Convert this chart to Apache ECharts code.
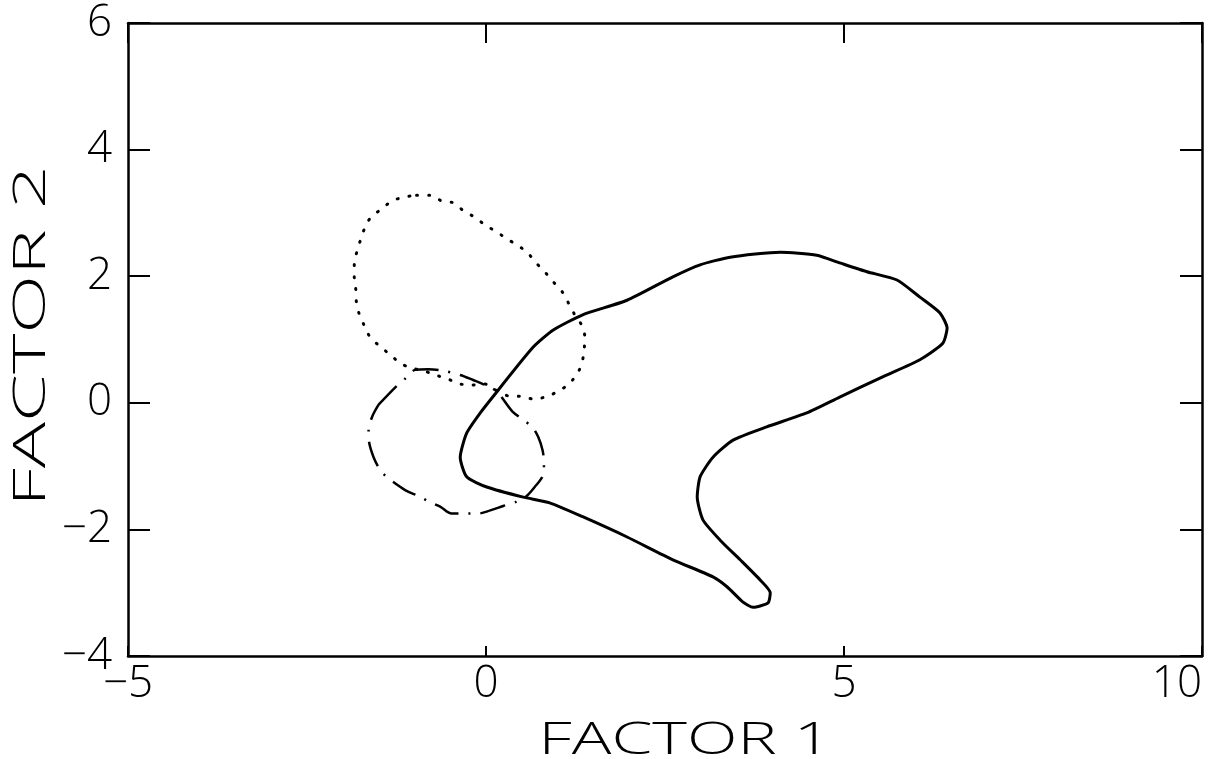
<!DOCTYPE html>
<html>
<head>
<meta charset="utf-8">
<title>FACTOR 1 / FACTOR 2</title>
<script src="https://cdn.jsdelivr.net/npm/echarts@6/dist/echarts.min.js"></script>
<style>
  html, body { margin: 0; padding: 0; background: #fff; }
  #chart { width: 1215px; height: 759px; }
</style>
</head>
<body>
<div id="chart"></div>
<script>
// axis ranges / ticks
const xRange = [-5, 10]
const yRange = [-4, 6]
const xStep = 5
const yStep = 2

// solid contour
const solidCurve = [
  [0.15, 0.17], [0.66, 0.88], [0.94, 1.15], [1.35, 1.39], [1.97, 1.62],
  [2.61, 1.99], [2.99, 2.18], [3.41, 2.30], [4.11, 2.38], [4.62, 2.33],
  [4.94, 2.21], [5.32, 2.07], [5.74, 1.94], [6.06, 1.67], [6.34, 1.42],
  [6.44, 1.18], [6.38, 0.94], [6.06, 0.68], [5.54, 0.41], [4.94, 0.09],
  [4.48, -0.16], [3.92, -0.38], [3.45, -0.59], [3.17, -0.86], [2.99, -1.17],
  [2.95, -1.49], [3.03, -1.85], [3.27, -2.17], [3.55, -2.48], [3.83, -2.80],
  [3.97, -3.00], [3.94, -3.16], [3.73, -3.23], [3.59, -3.15], [3.37, -2.91],
  [3.17, -2.75], [2.61, -2.48], [1.97, -2.12], [1.35, -1.80], [0.89, -1.58],
  [0.52, -1.49], [0.01, -1.33], [-0.27, -1.17], [-0.36, -0.86], [-0.27, -0.48],
  [-0.08, -0.16], [0.15, 0.17]
]

// dotted contour
const dottedCurve = [
  [-0.97, 3.28], [-0.78, 3.28], [-0.62, 3.19], [-0.46, 3.16], [-0.31, 3.03],
  [-0.17, 2.94], [0.00, 2.80], [0.15, 2.70], [0.29, 2.59], [0.44, 2.49],
  [0.58, 2.37], [0.70, 2.21], [0.82, 2.07], [0.94, 1.91], [1.06, 1.76],
  [1.15, 1.58], [1.24, 1.39], [1.34, 1.22], [1.38, 1.04], [1.37, 0.83],
  [1.34, 0.63], [1.28, 0.47], [1.16, 0.30], [1.02, 0.19], [0.85, 0.10],
  [0.67, 0.06], [0.50, 0.10], [0.31, 0.11], [0.15, 0.19], [-0.03, 0.30],
  [-0.20, 0.28], [-0.37, 0.30], [-0.54, 0.38], [-0.71, 0.44], [-0.88, 0.51],
  [-1.05, 0.55], [-1.20, 0.63], [-1.35, 0.77], [-1.49, 0.90], [-1.62, 1.04],
  [-1.70, 1.22], [-1.77, 1.40], [-1.81, 1.59], [-1.82, 1.81], [-1.84, 1.98],
  [-1.84, 2.20], [-1.80, 2.40], [-1.75, 2.58], [-1.68, 2.80], [-1.60, 2.94],
  [-1.46, 3.06], [-1.31, 3.19], [-1.14, 3.25], [-0.97, 3.28]
]

// dash-dot contour
const dashDotCurve = [
  [-1.50, -0.03], [-1.27, 0.24], [-1.13, 0.38], [-0.99, 0.52], [-0.81, 0.53],
  [-0.62, 0.51], [-0.36, 0.44], [-0.18, 0.36], [0.01, 0.27], [0.15, 0.18],
  [0.37, -0.14], [0.51, -0.26], [0.65, -0.39], [0.73, -0.54], [0.79, -0.75],
  [0.81, -0.94], [0.79, -1.16], [0.68, -1.33], [0.56, -1.48], [0.41, -1.57],
  [0.24, -1.63], [0.06, -1.70], [-0.11, -1.75], [-0.28, -1.75], [-0.48, -1.75],
  [-0.64, -1.64], [-0.78, -1.57], [-0.95, -1.47], [-1.11, -1.39], [-1.27, -1.27],
  [-1.40, -1.16], [-1.50, -1.02], [-1.57, -0.86], [-1.63, -0.64], [-1.64, -0.43],
  [-1.59, -0.22], [-1.50, -0.03]
]

const font = '"Open Sans", "Liberation Sans", sans-serif'
const ink = '#000'
const minus = v => String(v).replace('-', '\u2212')

const chart = echarts.init(document.getElementById('chart'), null, { renderer: 'canvas' })

// box edges, never on zero
const frameLine = { show: true, onZero: false, lineStyle: { color: ink, width: 2.5 } }

const option = {
  animation: false,
  backgroundColor: '#fff',
  grid: { left: 128, right: 13, top: 23, bottom: 103, containLabel: false, outerBoundsMode: 'none' },
  xAxis: [
    {
      type: 'value', min: xRange[0], max: xRange[1], interval: xStep,
      position: 'bottom',
      axisLine: frameLine,
      axisTick: { show: true, inside: true, length: 10, lineStyle: { color: ink, width: 2 } },
      axisLabel: {
        color: ink, fontSize: 44, fontFamily: font, fontWeight: 300, margin: 6,
        formatter: minus, alignMaxLabel: 'right'
      },
      splitLine: { show: false }
    },
    {
      type: 'value', min: xRange[0], max: xRange[1], interval: xStep,
      position: 'top',
      axisLine: frameLine,
      axisTick: { show: true, inside: true, length: 20, lineStyle: { color: ink, width: 2 } },
      axisLabel: { show: false },
      splitLine: { show: false }
    }
  ],
  yAxis: [
    {
      type: 'value', min: yRange[0], max: yRange[1], interval: yStep,
      position: 'left',
      axisLine: frameLine,
      axisTick: { show: true, inside: true, length: 22, lineStyle: { color: ink, width: 2 } },
      axisLabel: { color: ink, fontSize: 44, fontFamily: font, fontWeight: 300, margin: 16, formatter: minus },
      splitLine: { show: false }
    },
    {
      type: 'value', min: yRange[0], max: yRange[1], interval: yStep,
      position: 'right',
      axisLine: frameLine,
      axisTick: { show: true, inside: true, length: 22, lineStyle: { color: ink, width: 2 } },
      axisLabel: { show: false },
      splitLine: { show: false }
    }
  ],
  // axis titles, stretched like the plotter lettering
  graphic: [
    {
      type: 'text', x: 685, y: 741, scaleX: 1.5,
      style: {
        text: 'FACTOR 1', fill: ink, fontSize: 44, fontFamily: font, fontWeight: 300,
        align: 'center', verticalAlign: 'middle'
      }
    },
    {
      type: 'text', x: 32, y: 336, rotation: Math.PI / 2, scaleX: 1.75,
      style: {
        text: 'FACTOR 2', fill: ink, fontSize: 44, fontFamily: font, fontWeight: 300,
        align: 'center', verticalAlign: 'middle'
      }
    }
  ],
  series: [
    {
      name: 'solid', type: 'line', data: solidCurve, showSymbol: false, smooth: 0.2,
      lineStyle: { color: ink, width: 3 }
    },
    {
      name: 'dotted', type: 'line', data: dottedCurve, showSymbol: false, smooth: 0.3,
      lineStyle: { color: ink, width: 3, type: [1, 11], cap: 'round' }
    },
    {
      name: 'dashdot', type: 'line', data: dashDotCurve, showSymbol: false, smooth: 0.3,
      lineStyle: { color: ink, width: 2.5, type: [26, 10, 2, 10] }
    }
  ]
}

chart.setOption(option)
</script>
</body>
</html>
